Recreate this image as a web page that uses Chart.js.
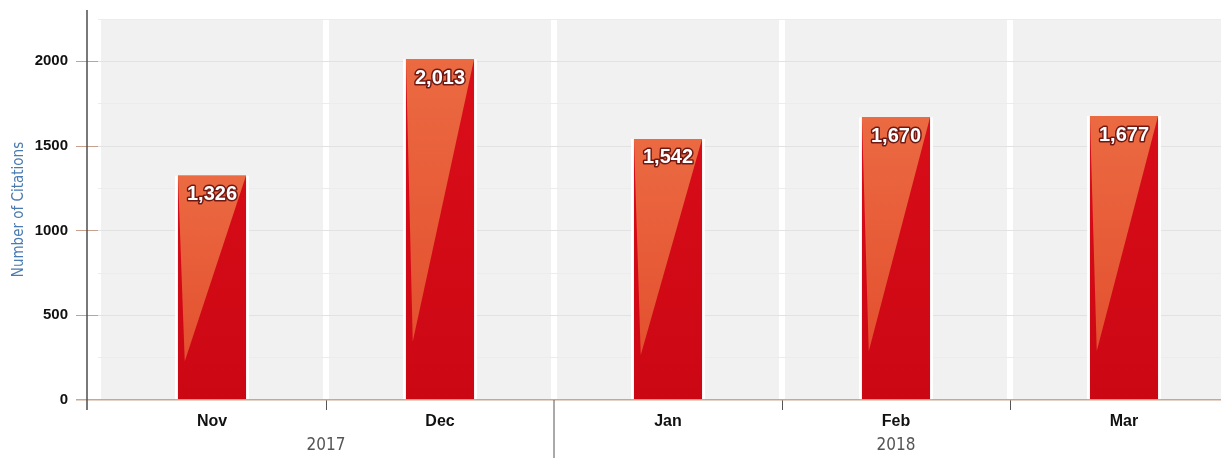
<!DOCTYPE html>
<html>
<head>
<meta charset="utf-8">
<script src="https://cdn.jsdelivr.net/npm/chart.js@4/dist/chart.umd.min.js"></script>
<style>
  html, body { margin: 0; padding: 0; background: #fff; overflow: hidden; }
  #wrap { position: relative; width: 1240px; height: 458px; }
</style>
</head>
<body>
<div id="wrap"><canvas id="citationsChart"></canvas></div>
<script>
// data
const months = ['Nov', 'Dec', 'Jan', 'Feb', 'Mar'];
const citations = [1326, 2013, 1542, 1670, 1677];
const years = ['2017', '2018'];
const monthsPerYear = [2, 3];
const yMax = 2250;
const yStep = 250;
const yLabelEvery = 500;

const NARROW = "'Liberation Sans Narrow', 'DejaVu Sans Condensed', 'Liberation Sans', sans-serif";
const SANS = "'Liberation Sans', Arial, sans-serif";

// light grey column behind each month, white gap between
const bandsPlugin = {
  id: 'bands',
  beforeDraw(chart) {
    const { ctx, chartArea } = chart;
    const x = chart.scales.x;
    const w = x.width / months.length;
    ctx.save();
    ctx.fillStyle = '#f2f1f2';
    months.forEach((m, i) => {
      const c = x.getPixelForValue(i);
      ctx.fillRect(c - w / 2 + 3, chartArea.top, w - 6, chartArea.bottom - chartArea.top);
    });
    ctx.restore();
  }
};

// orange wedge on each bar + value label
const barFacePlugin = {
  id: 'barFace',
  afterDatasetsDraw(chart) {
    const { ctx } = chart;
    const meta = chart.getDatasetMeta(0);
    ctx.save();
    meta.data.forEach((bar, i) => {
      const l = bar.x - bar.width / 2 + 3;
      const r = bar.x + bar.width / 2 - 3;
      const t = bar.y;
      const b = bar.base;
      const tipX = l + (r - l) * 0.1;
      const tipY = t + (b - t) * 0.83;
      const g = ctx.createLinearGradient(0, t, 0, tipY);
      g.addColorStop(0, '#eb6a42');
      g.addColorStop(1, '#e4502f');
      ctx.fillStyle = g;
      ctx.beginPath();
      ctx.moveTo(l, t);
      ctx.lineTo(r, t);
      ctx.lineTo(tipX, tipY);
      ctx.closePath();
      ctx.fill();

      // value
      const txt = citations[i].toLocaleString('en-US');
      ctx.font = 'bold 20px ' + SANS;
      ctx.textAlign = 'center';
      ctx.textBaseline = 'middle';
      ctx.lineJoin = 'round';
      ctx.lineWidth = 3;
      ctx.strokeStyle = 'rgba(90,10,10,0.85)';
      ctx.strokeText(txt, bar.x, t + 19);
      ctx.fillStyle = '#ffffff';
      ctx.fillText(txt, bar.x, t + 19);
    });
    ctx.restore();
  }
};

// axis line, year separator and year labels
const axisExtrasPlugin = {
  id: 'axisExtras',
  afterDraw(chart) {
    const { ctx, chartArea } = chart;
    const x = chart.scales.x;
    const w = x.width / months.length;
    ctx.save();
    // vertical axis line, a little left of the plot
    ctx.strokeStyle = '#4d4d4d';
    ctx.lineWidth = 1.5;
    ctx.beginPath();
    ctx.moveTo(chartArea.left - 11, chartArea.top - 9);
    ctx.lineTo(chartArea.left - 11, chartArea.bottom + 10);
    ctx.stroke();

    let start = 0;
    years.forEach((yr, k) => {
      const end = start + monthsPerYear[k] - 1;
      const left = x.getPixelForValue(start) - w / 2;
      const right = x.getPixelForValue(end) + w / 2;
      if (k > 0) {
        ctx.strokeStyle = '#555';
        ctx.lineWidth = 1;
        ctx.beginPath();
        ctx.moveTo(left, chartArea.bottom);
        ctx.lineTo(left, chart.height);
        ctx.stroke();
      }
      ctx.fillStyle = '#555';
      ctx.font = '17px ' + NARROW;
      ctx.textAlign = 'center';
      ctx.textBaseline = 'middle';
      ctx.fillText(yr, (left + right) / 2, 446);
      start = end + 1;
    });
    ctx.restore();
  }
};

const ctx = document.getElementById('citationsChart').getContext('2d');
new Chart(ctx, {
  type: 'bar',
  data: {
    labels: months,
    datasets: [{
      label: 'Number of Citations',
      data: citations,
      backgroundColor: (c) => {
        const area = c.chart.chartArea;
        if (!area) return '#d20b16';
        const g = c.chart.ctx.createLinearGradient(0, area.top, 0, area.bottom);
        g.addColorStop(0, '#dc0f1a');
        g.addColorStop(1, '#cc0714');
        return g;
      },
      borderColor: '#ffffff',
      borderWidth: { left: 3, right: 3, top: 0, bottom: 0 },
      borderSkipped: false,
      barPercentage: 0.325,
      categoryPercentage: 1.0
    }]
  },
  options: {
    responsive: true,
    maintainAspectRatio: false,
    animation: false,
    layout: { padding: { top: 19, right: 2, left: 0, bottom: 0 } },
    scales: {
      x: {
        offset: true,
        border: { display: false },
        grid: {
          offset: true,
          drawOnChartArea: false,
          drawTicks: true,
          tickLength: 10,
          color: (c) => (c.index === 0 || c.index === 2) ? 'transparent' : '#555'
        },
        ticks: {
          color: '#111',
          padding: 2,
          font: { family: SANS, size: 16, weight: 'bold' }
        },
        afterFit: (scale) => { scale.height = 58; }
      },
      y: {
        min: 0,
        max: yMax,
        border: { display: false },
        grid: {
          tickLength: 22,
          lineWidth: (c) => c.tick && c.tick.value === 0 ? 1.5 : 1,
          color: (c) => {
            const v = c.tick.value;
            if (v === 0) return '#c9a68f';
            return v % yLabelEvery === 0 ? '#e2e2e2' : '#ececec';
          },
          tickColor: (c) => {
            const v = c.tick.value;
            if (v === 0) return '#c9a68f';
            return v % yLabelEvery === 0 ? '#c9a08c' : 'transparent';
          }
        },
        ticks: {
          stepSize: yStep,
          padding: 8,
          color: '#111',
          font: { family: SANS, size: 15, weight: 'bold' },
          callback: (v) => v % yLabelEvery === 0 ? String(v) : ''
        },
        title: {
          display: true,
          text: 'Number of Citations',
          color: '#4a7bb0',
          padding: { top: 10, bottom: 0 },
          font: { family: NARROW, size: 15 }
        },
        afterFit: (scale) => { scale.width = 98; }
      }
    },
    plugins: {
      legend: { display: false },
      tooltip: { enabled: false }
    }
  },
  plugins: [bandsPlugin, barFacePlugin, axisExtrasPlugin]
});
</script>
</body>
</html>
